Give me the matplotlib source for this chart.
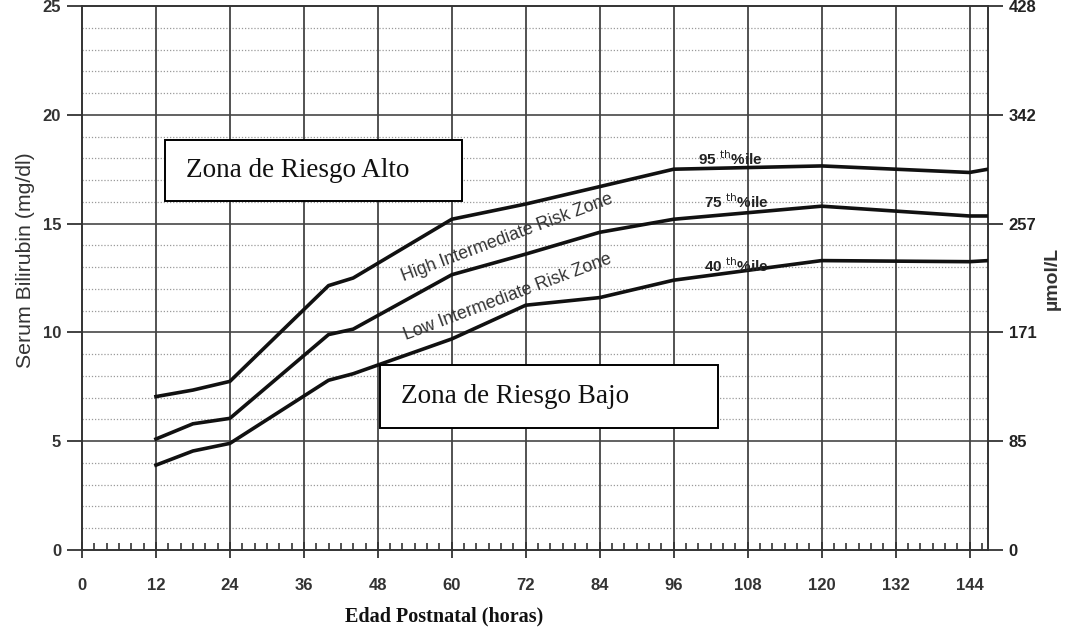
import matplotlib
matplotlib.use("Agg")
import matplotlib.pyplot as plt
from matplotlib.ticker import MultipleLocator
from matplotlib.patches import Rectangle

# ---- data ----
hours95 = [12, 18, 24, 40, 44, 60, 72, 84, 96, 120, 144, 147]
p95 = [7.05, 7.35, 7.75, 12.15, 12.5, 15.2, 15.9, 16.7, 17.5, 17.65, 17.35, 17.5]
hours75 = [12, 18, 24, 40, 44, 60, 72, 84, 96, 120, 144, 147]
p75 = [5.1, 5.8, 6.05, 9.9, 10.15, 12.65, 13.6, 14.6, 15.2, 15.8, 15.35, 15.35]
hours40 = [12, 18, 24, 40, 44, 60, 72, 84, 96, 120, 144, 147]
p40 = [3.9, 4.55, 4.9, 7.8, 8.1, 9.7, 11.25, 11.6, 12.4, 13.3, 13.25, 13.3]

x_ticks = [0, 12, 24, 36, 48, 60, 72, 84, 96, 108, 120, 132, 144]
y_ticks = [0, 5, 10, 15, 20, 25]
umol_labels = ["0", "85", "171", "257", "342", "428"]

fig = plt.figure(figsize=(10.70, 6.29), dpi=100)
ax = fig.add_axes([82/1070, 1-550/629, (988-82)/1070, (550-6)/629])

ax.set_xlim(0, 147)
ax.set_ylim(0, 25)

# grid
for yv in range(1, 25):
    if yv % 5:
        ax.axhline(yv, color="#9a9a9a", lw=0.9, ls=(0, (1, 1.5)), zorder=1)
for yv in [5, 10, 15, 20]:
    ax.axhline(yv, color="#555555", lw=1.3, zorder=1)
for xv in x_ticks[1:]:
    ax.axvline(xv, color="#444444", lw=1.3, zorder=1)

# curves
for h, p in [(hours95, p95), (hours75, p75), (hours40, p40)]:
    ax.plot(h, p, color="#111111", lw=2.6, zorder=3, solid_joinstyle="round")

# spines
for s in ax.spines.values():
    s.set_color("#333333")
    s.set_linewidth(1.4)

ax.set_xticks(x_ticks)
ax.xaxis.set_minor_locator(MultipleLocator(2))
ax.tick_params(axis="x", which="major", direction="inout", length=12, width=1.3,
               colors="#333333", labelsize=12, pad=14, labelcolor="#333333")
ax.tick_params(axis="x", which="minor", direction="in", length=5, width=1.2, colors="#333333")
ax.set_yticks(y_ticks)
ax.tick_params(axis="y", which="major", direction="out", length=11, width=1.3,
               colors="#333333", labelsize=12, pad=4, labelcolor="#333333")

ax2 = ax.twinx()
ax2.set_ylim(0, 25)
ax2.set_yticks(y_ticks)
ax2.set_yticklabels(umol_labels)
ax2.tick_params(axis="y", direction="out", length=11, width=1.3, colors="#333333",
                labelsize=12, pad=4, labelcolor="#222222")
for s in ax2.spines.values():
    s.set_visible(False)

for lab in ax.get_xticklabels() + ax.get_yticklabels() + ax2.get_yticklabels():
    lab.set_fontfamily("Liberation Sans")
    lab.set_fontweight("bold")

ax.set_ylabel("Serum Bilirubin (mg/dl)", fontsize=15.3, family="Liberation Sans",
              color="#333333")
ax.yaxis.set_label_coords(-0.052, 0.533)
ax2.set_ylabel("µmol/L", fontsize=14, family="Liberation Sans", color="#333333",
               rotation=90, fontweight="bold")
ax2.yaxis.set_label_coords(1.061, 0.5)
ax.set_xlabel("Edad Postnatal (horas)", fontsize=14.5, family="Liberation Serif",
              fontweight="bold", color="#111111")
ax.xaxis.label.set_va("center")
ax.xaxis.set_label_coords(0.4, -0.123)

# percentile labels
pct_kw = dict(fontsize=11, family="Liberation Sans", fontweight="bold", color="#222222",
              zorder=4, va="center", ha="left")
ax.text(100.0, 18.0, "95 $^{\\rm th}$%ile", **pct_kw)
ax.text(101.0, 16.0, "75 $^{\\rm th}$%ile", **pct_kw)
ax.text(101.0, 13.05, "40 $^{\\rm th}$%ile", **pct_kw)

zone_kw = dict(fontsize=12.8, family="Liberation Sans", color="#333333", rotation=20.5,
               ha="center", va="center", zorder=4)
ax.text(69, 14.35, "High Intermediate Risk Zone", **zone_kw)
ax.text(69, 11.6, "Low Intermediate Risk Zone", **zone_kw)

# boxed zone labels
def px2d(px, py):
    return ((px - 82) / (988 - 82) * 147, (550 - py) / (550 - 6) * 25)

def box(x0, y0, x1, y1, label):
    (dx0, dy0) = px2d(x0, y1)
    (dx1, dy1) = px2d(x1, y0)
    ax.add_patch(Rectangle((dx0, dy0), dx1 - dx0, dy1 - dy0, fc="white", ec="black",
                           lw=1.4, zorder=5))
    ax.text(dx0 + (21 / 906) * 147, (dy0 + dy1) / 2, label, fontsize=19.5,
            family="Liberation Serif", va="center", ha="left", zorder=6, color="#111111")

box(165, 140, 462, 201, "Zona de Riesgo Alto")
box(380, 365, 718, 428, "Zona de Riesgo Bajo")

fig.savefig("out.png", dpi=100)
